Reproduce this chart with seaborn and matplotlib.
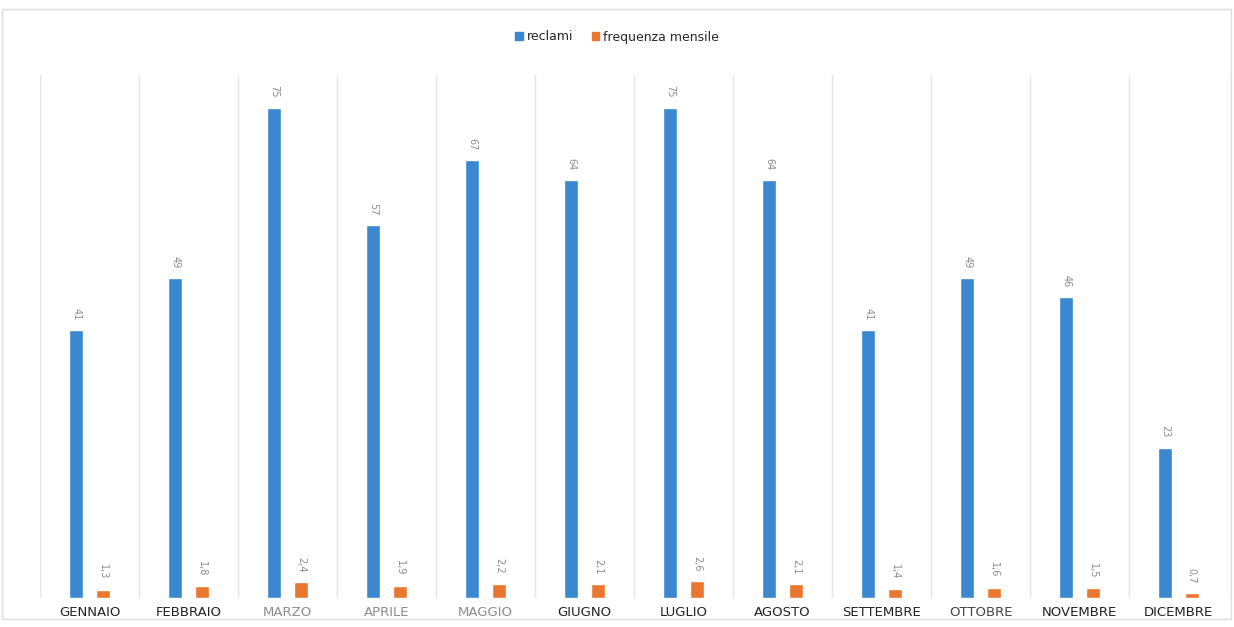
import matplotlib
matplotlib.use("Agg")
import matplotlib.pyplot as plt
import seaborn as sns
import pandas as pd
from matplotlib.patches import Rectangle

# Monthly complaint data
mesi = ["GENNAIO", "FEBBRAIO", "MARZO", "APRILE", "MAGGIO", "GIUGNO",
        "LUGLIO", "AGOSTO", "SETTEMBRE", "OTTOBRE", "NOVEMBRE", "DICEMBRE"]
reclami = [41, 49, 75, 57, 67, 64, 75, 64, 41, 49, 46, 23]
frequenza_mensile = [1.3, 1.8, 2.4, 1.9, 2.2, 2.1, 2.6, 2.1, 1.4, 1.6, 1.5, 0.7]
serie = ["reclami", "frequenza mensile"]

blu = "#3a88cf"
arancio = "#e9772f"

df = pd.DataFrame({
    "mese": mesi * 2,
    "valore": reclami + frequenza_mensile,
    "serie": [serie[0]] * len(mesi) + [serie[1]] * len(mesi),
})

sns.set_theme(style="white")
plt.rcParams["font.family"] = ["DejaVu Sans"]

fig = plt.figure(figsize=(12.34, 6.27), dpi=100)
ax = fig.add_axes([40 / 1234, 29 / 627, 1188 / 1234, 523 / 627])

sns.barplot(data=df, x="mese", y="valore", hue="serie", order=mesi,
            hue_order=serie, palette=[blu, arancio], width=0.54, gap=0.48,
            ax=ax, legend=True, saturation=1, errorbar=None)

ax.set_ylim(0, 80)
ax.set_xlim(-0.5, len(mesi) - 0.5)
ax.set_xlabel("")
ax.set_ylabel("")
ax.set_yticks([])
for s in ax.spines.values():
    s.set_visible(False)

# category separators
for i in range(len(mesi) + 1):
    ax.axvline(i - 0.5, color="#e4e4e4", lw=1, zorder=0)

# value labels, rotated
for cont, fmt in zip(ax.containers, [lambda v: f"{v:.0f}",
                                     lambda v: f"{v:.1f}".replace(".", ",")]):
    for bar in cont:
        h = bar.get_height()
        xc = bar.get_x() + bar.get_width() / 2
        ax.text(xc, h + 1.5, fmt(h), rotation=270, ha="center", va="bottom",
                fontsize=7, color="#8a8a8a")

ax.tick_params(axis="x", length=0, pad=6)
tick_colors = ["#222222", "#222222", "#8c8c8c", "#8c8c8c", "#8c8c8c", "#222222",
               "#222222", "#222222", "#222222", "#444444", "#222222", "#222222"]
ax.set_xticks(range(len(mesi)))
ax.set_xticklabels(mesi, fontsize=9.5)
for lbl, c in zip(ax.get_xticklabels(), tick_colors):
    lbl.set_color(c)

ax.legend_.remove()
handles = [Rectangle((0, 0), 1, 1, color=blu), Rectangle((0, 0), 1, 1, color=arancio)]
fig.legend(handles, serie, loc="center", bbox_to_anchor=(0.5, 1 - 37 / 627),
           ncol=2, frameon=False, fontsize=9, handlelength=0.6, handleheight=0.6,
           handletextpad=0.3, columnspacing=1.5)

# chart frame
fig.add_artist(Rectangle((2 / 1234, 8 / 627), 1229 / 1234, 610 / 627,
                         transform=fig.transFigure, fill=False,
                         edgecolor="#dcdcdc", lw=1))

fig.savefig("out.png", dpi=100)
